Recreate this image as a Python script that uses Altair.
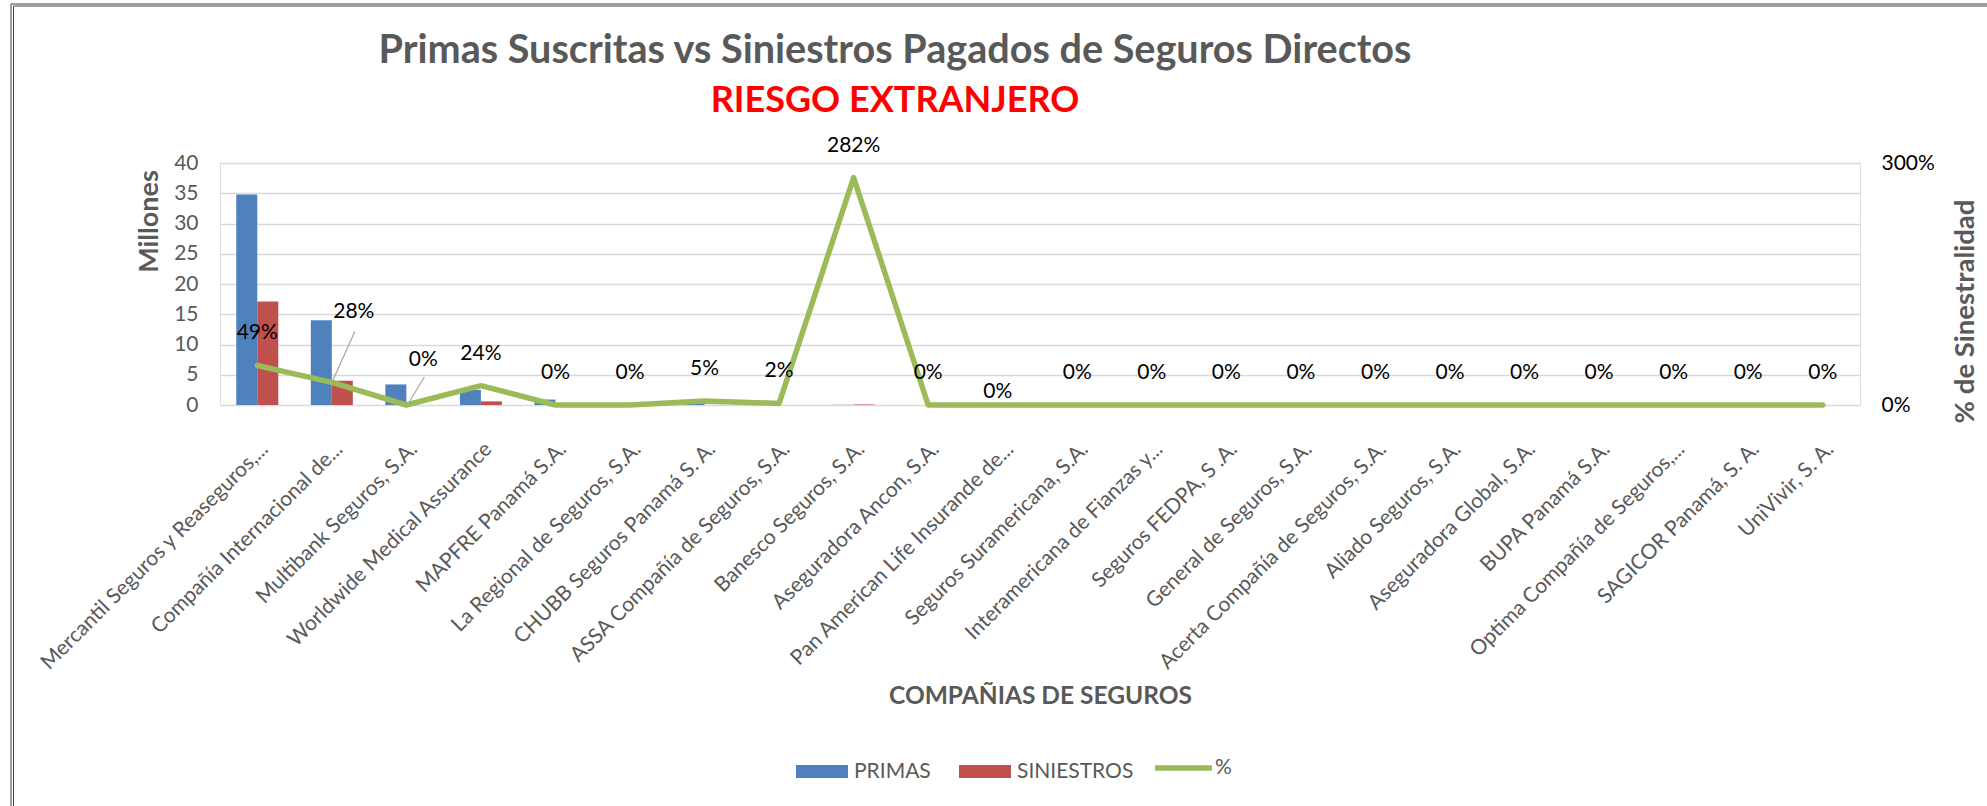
import json
import altair as alt
import pandas as pd

# ---------------- data ----------------
companias = [
    "Mercantil Seguros y Reaseguros,...",
    "Compañía Internacional de...",
    "Multibank Seguros, S.A.",
    "Worldwide Medical Assurance",
    "MAPFRE Panamá S.A.",
    "La Regional de  Seguros, S.A.",
    "CHUBB Seguros Panamá S. A.",
    "ASSA Compañía de Seguros, S.A.",
    "Banesco Seguros, S.A.",
    "Aseguradora Ancon, S.A.",
    "Pan American Life Insurande de...",
    "Seguros Suramericana, S.A.",
    "Interamericana de Fianzas y...",
    "Seguros FEDPA, S .A.",
    "General de Seguros, S.A.",
    "Acerta Compañía de Seguros, S.A.",
    "Aliado Seguros, S.A.",
    "Aseguradora Global, S.A.",
    "BUPA Panamá S.A.",
    "Optima Compañía de Seguros,...",
    "SAGICOR Panamá, S. A.",
    "UniVivir, S. A.",
]
primas = [34.8, 14.0, 3.4, 2.5, 0.9, 0.0, 0.2, 0.05, 0.03, 0.0, 0.0,
          0.0, 0.0, 0.0, 0.0, 0.0, 0.0, 0.0, 0.0, 0.0, 0.0, 0.0]
siniestros = [17.1, 4.0, 0.0, 0.6, 0.0, 0.0, 0.01, 0.001, 0.085, 0.0, 0.0,
              0.0, 0.0, 0.0, 0.0, 0.0, 0.0, 0.0, 0.0, 0.0, 0.0, 0.0]
porcentaje = [0.49, 0.28, 0.0, 0.24, 0.0, 0.0, 0.05, 0.02, 2.82, 0.0, 0.0,
              0.0, 0.0, 0.0, 0.0, 0.0, 0.0, 0.0, 0.0, 0.0, 0.0, 0.0]
series_barras = ["PRIMAS", "SINIESTROS"]
colores_barras = ["#4F81BD", "#C0504D"]
serie_linea = "%"
color_linea = "#9BBB59"

n = len(companias)
bars_df = pd.DataFrame({
    "compania": companias * 2,
    "serie": ["PRIMAS"] * n + ["SINIESTROS"] * n,
    "valor": primas + siniestros,
})
pct_df = pd.DataFrame({"compania": companias, "pct": porcentaje,
                       "serie": [serie_linea] * n})
one_df = pd.DataFrame({"a": [0]})

# --------------- style ----------------
FONT = "Lato"
GRAY = "#595959"
W, H = 1640, 242
PAD_L, PAD_T = 220, 163

# labels moved by hand in the original (dx, dy in pixels)
moved = {
    companias[1]: (22, -70),
    companias[2]: (17, -45),
    companias[10]: (-5, -13),
}
# leader lines: (x0, y0, x1, y1) offsets from the point
leaders = {
    companias[1]: (1, -2, 23, -51),
    companias[2]: (1, 0, 18, -28),
}

x_axis = alt.Axis(
    title="COMPAÑIAS DE SEGUROS", labelAngle=315, labelAlign="right",
    labelBaseline="top", labelPadding=33, labelOffset=0, labelLimit=600,
    labelFont=FONT, labelFontSize=21, labelColor=GRAY, ticks=False,
    tickSize=0, domain=False, grid=False, titleFont=FONT, titleFontSize=24.5,
    titleFontWeight="bold", titleColor=GRAY, titleY=291,
    titleBaseline="middle",
)
x_scale = alt.Scale(paddingInner=0, paddingOuter=0)


def xenc(**kw):
    return alt.X("compania:N", sort=companias, scale=x_scale, axis=x_axis, **kw)


y_pct_axis = alt.Axis(
    orient="right", values=[0, 3], format=".0%", labelFont=FONT,
    labelFontSize=21, labelColor="#000000", labelPadding=21, ticks=False,
    tickSize=0, domain=False, grid=False, title="% de Sinestralidad",
    titleFont=FONT, titleFontSize=27.5, titleFontWeight="bold",
    titleColor=GRAY, titleAngle=270, titleX=105, titleY=148,
    titleBaseline="middle", titleAlign="center",
)
y_pct_scale = alt.Scale(domain=[0, 3], nice=False)


def ypct(**kw):
    return alt.Y("pct:Q", scale=y_pct_scale, axis=y_pct_axis, **kw)


bar_legend = alt.Legend(
    orient="none", legendX=576, legendY=582.5, direction="horizontal",
    title=None, symbolType="M-1,-0.25H1V0.25H-1Z", symbolSize=2704,
    symbolStrokeWidth=0, symbolOpacity=1,
    labelFont=FONT, labelFontSize=21, labelColor=GRAY, labelOffset=6,
    columnPadding=28, padding=0,
)
line_legend = alt.Legend(
    orient="none", legendX=932, legendY=573.5, direction="horizontal",
    title=None, symbolType="stroke", symbolSize=3249, symbolStrokeWidth=5.5,
    labelFont=FONT, labelFontSize=21, labelColor=GRAY, labelOffset=0,
    padding=0,
)

bars = alt.Chart(bars_df).mark_bar().encode(
    x=xenc(),
    xOffset=alt.XOffset("serie:N", sort=series_barras,
                        scale=alt.Scale(paddingInner=0, paddingOuter=0.774)),
    y=alt.Y("valor:Q", scale=alt.Scale(domain=[0, 40], nice=False),
            axis=alt.Axis(values=list(range(0, 41, 5)), title="Millones",
                          labelFont=FONT, labelFontSize=21, labelColor=GRAY,
                          labelPadding=22, ticks=False, tickSize=0,
                          domain=False, gridColor="#D9D9D9", gridWidth=1.5,
                          titleFont=FONT, titleFontSize=27,
                          titleFontWeight="bold", titleColor=GRAY,
                          titleAngle=270, titleX=-71, titleY=58,
                          titleBaseline="middle", titleAlign="center")),
    color=alt.Color("serie:N",
                    scale=alt.Scale(domain=series_barras, range=colores_barras),
                    legend=bar_legend),
)

line = alt.Chart(pct_df).mark_line(
    strokeWidth=5.5, strokeCap="round", strokeJoin="round"
).encode(
    x=xenc(), y=ypct(),
    stroke=alt.Stroke("serie:N",
                      scale=alt.Scale(domain=[serie_linea], range=[color_linea]),
                      legend=line_legend),
)

moved_names = json.dumps(list(moved.keys()), ensure_ascii=False)
text_main = alt.Chart(pct_df).transform_filter(
    f"indexof({moved_names}, datum.compania) < 0"
).mark_text(font=FONT, fontSize=21, color="#000000", dy=-32,
            baseline="middle").encode(
    x=xenc(), y=ypct(), text=alt.Text("pct:Q", format=".0%"))

layers = [line, text_main]
for name, (dx, dy) in moved.items():
    layers.append(
        alt.Chart(pct_df).transform_filter(alt.datum.compania == name)
        .mark_text(font=FONT, fontSize=21, color="#000000", dx=dx, dy=dy,
                   baseline="middle")
        .encode(x=xenc(), y=ypct(), text=alt.Text("pct:Q", format=".0%"))
    )
for name, (x0, y0, x1, y1) in leaders.items():
    layers.append(
        alt.Chart(pct_df).transform_filter(alt.datum.compania == name)
        .mark_rule(color="#A6A6A6", strokeWidth=1.2, xOffset=x0, yOffset=y0,
                   x2Offset=x1, y2Offset=y1)
        .encode(x=xenc(bandPosition=0.5),
                x2=alt.X2("compania", bandPosition=0.5),
                y=ypct(), y2=alt.Y2("pct"))
    )

# outer chart frame (double line on left and top)
fr = "#404040"
frame = [
    alt.Chart(one_df).mark_rule(color=fr, strokeWidth=1).encode(
        x=alt.value(11 - PAD_L), y=alt.value(4 - PAD_T), y2=alt.value(806 - PAD_T)),
    alt.Chart(one_df).mark_rule(color=fr, strokeWidth=1).encode(
        x=alt.value(13.5 - PAD_L), y=alt.value(6 - PAD_T), y2=alt.value(806 - PAD_T)),
    alt.Chart(one_df).mark_rule(color=fr, strokeWidth=1).encode(
        x=alt.value(11 - PAD_L), x2=alt.value(1987 - PAD_L), y=alt.value(4 - PAD_T)),
    alt.Chart(one_df).mark_rule(color=fr, strokeWidth=1).encode(
        x=alt.value(13.5 - PAD_L), x2=alt.value(1987 - PAD_L), y=alt.value(6 - PAD_T)),
]

pct_layer = alt.layer(*layers, *frame)

chart = alt.layer(bars, pct_layer).resolve_scale(y="independent").properties(
    width=W, height=H,
    autosize=alt.AutoSizeParams(type="none"),
    padding={"left": PAD_L, "top": PAD_T, "right": 1987 - PAD_L - W,
             "bottom": 806 - PAD_T - H},
    title=alt.TitleParams(
        text="Primas Suscritas vs Siniestros Pagados de Seguros Directos",
        subtitle="RIESGO EXTRANJERO",
        anchor="middle", frame="group", dx=-145, offset=-117,
        font=FONT, fontSize=39.6, fontWeight="bold", color=GRAY,
        subtitleFont=FONT, subtitleFontSize=36, subtitleFontWeight="bold",
        subtitleColor="#FF0000", subtitlePadding=13,
    ),
).configure_view(stroke="#BFBFBF", strokeWidth=1.3).configure(
    background="white")

chart.save("out.html", embed_options={"renderer": "svg", "actions": False})
